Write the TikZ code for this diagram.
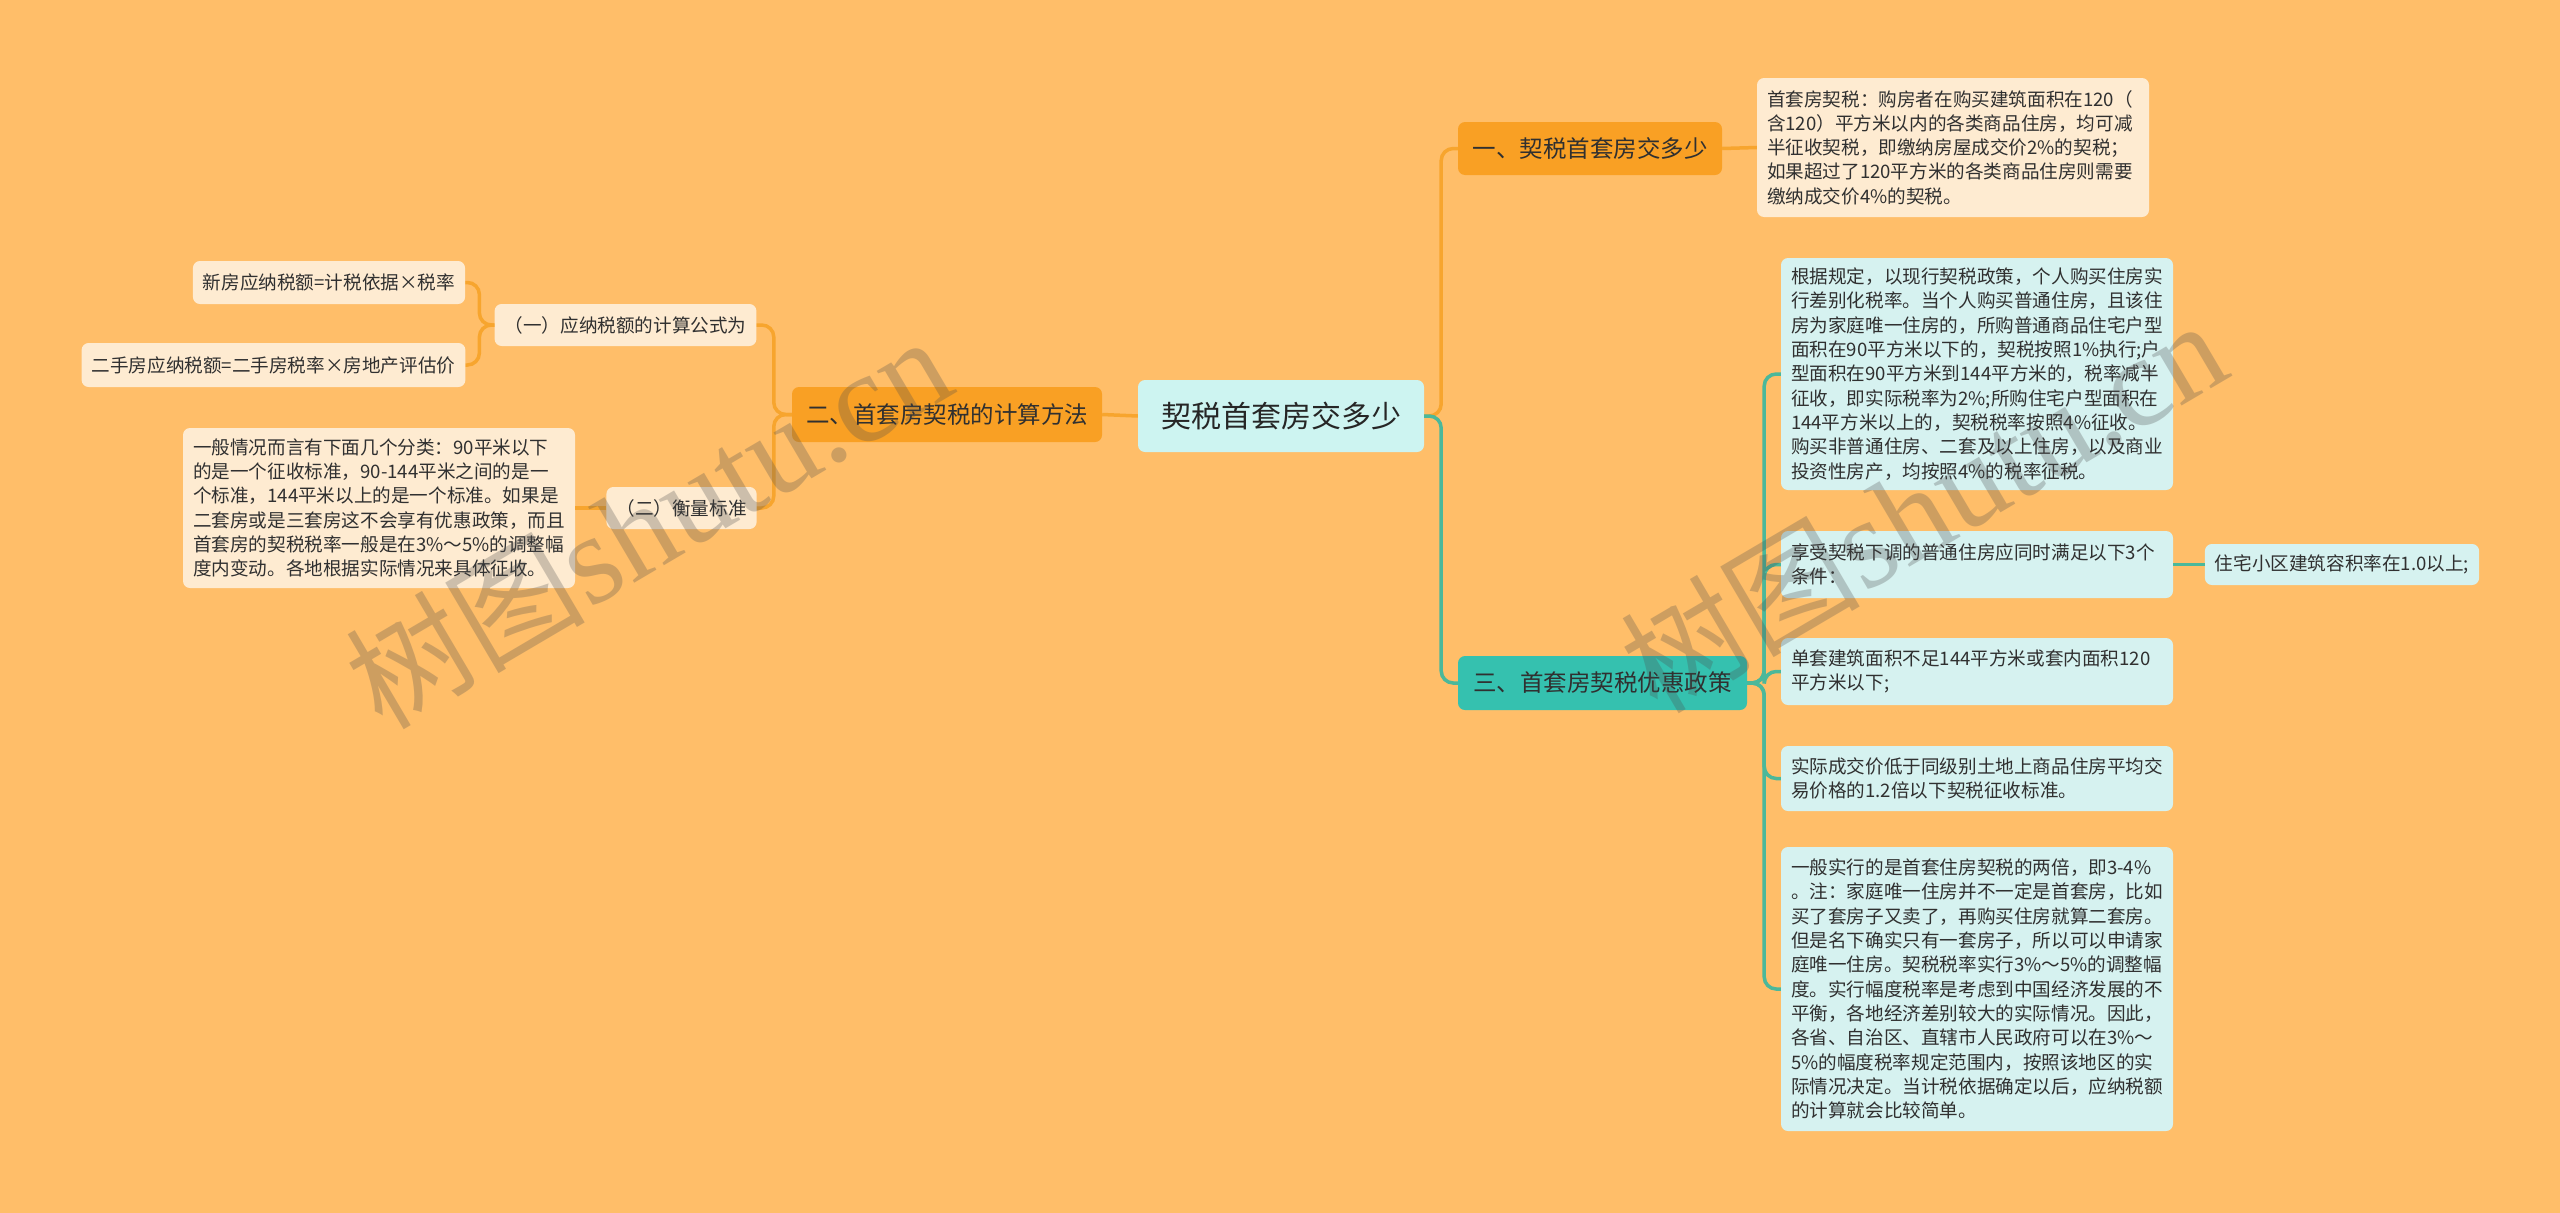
\documentclass[tikz,border=0pt]{standalone}
\usepackage{fontspec}
\newfontfamily\cjk{Noto Sans CJK SC}
\newfontfamily\wmserif{Liberation Serif}
\definecolor{bgc}{HTML}{FFBE69}
\definecolor{orfill}{HTML}{F9A024}
\definecolor{tealfill}{HTML}{35C1AF}
\definecolor{cenfill}{HTML}{CDF4F1}
\definecolor{cyfill}{HTML}{D6F2F0}
\definecolor{crfill}{HTML}{FEEBD1}
\definecolor{orline}{HTML}{F7A52E}
\definecolor{tline}{HTML}{4BB89A}
\definecolor{txt}{HTML}{303030}
\tikzset{
  box/.style={rounded corners=7pt, inner xsep=10pt, inner ysep=0pt, text=txt},
  leaf/.style={box, font={\cjk\fontsize{18.6}{24.3}\selectfont}},
  multileaf/.style={leaf, text width=#1, align=left},
  crleaf/.style={fill=crfill},
  cyleaf/.style={fill=cyfill},
  branch/.style={box, font={\cjk\fontsize{23.5}{28}\selectfont}},
  oline/.style={draw=orline, line width=3.5pt, rounded corners=12pt},
  tconn/.style={draw=tline, line width=3.5pt, rounded corners=12pt},
  wm/.style={rotate=30.5, opacity=0.28, text=black!70}
}
\begin{document}
\begin{tikzpicture}[x=1pt,y=-1pt]
\fill[bgc] (0,0) rectangle (2560,1213);
\useasboundingbox (0,0) rectangle (2560,1213);

\node[box, fill=cenfill, minimum width=286pt, minimum height=72pt, font={\cjk\fontsize{30}{34}\selectfont}, text=black!85] (c) at (1281,416) {契税首套房交多少};

\node[branch, fill=orfill, minimum width=264pt, minimum height=53pt] (b1) at (1590,148.5) {一、契税首套房交多少};
\node[branch, fill=orfill, minimum width=310pt, minimum height=55pt] (b2) at (947,414.5) {二、首套房契税的计算方法};
\node[branch, fill=tealfill, minimum width=289pt, minimum height=54pt] (b3) at (1602.5,683) {三、首套房契税优惠政策};

\node[multileaf=372pt, crleaf, minimum width=392pt, minimum height=139pt] (l1) at (1953,147.5) {首套房契税：购房者在购买建筑面积在120（\\含120）平方米以内的各类商品住房，均可减\\半征收契税，即缴纳房屋成交价2\%的契税；\\如果超过了120平方米的各类商品住房则需要\\缴纳成交价4\%的契税。};

\node[leaf, crleaf, minimum width=261pt, minimum height=42pt] (s1) at (625.5,325) {（一）应纳税额的计算公式为};
\node[leaf, crleaf, minimum width=149pt, minimum height=42pt] (s2) at (681.5,508) {（二）衡量标准};
\node[leaf, crleaf, minimum width=272pt, minimum height=43pt] (f1) at (329,282.5) {新房应纳税额=计税依据×税率};
\node[leaf, crleaf, minimum width=383pt, minimum height=44pt] (f2) at (273.5,365) {二手房应纳税额=二手房税率×房地产评估价};
\node[multileaf=372pt, crleaf, minimum width=392pt, minimum height=160pt] (l2) at (379,508) {一般情况而言有下面几个分类：90平米以下\\的是一个征收标准，90-144平米之间的是一\\个标准，144平米以上的是一个标准。如果是\\二套房或是三套房这不会享有优惠政策，而且\\首套房的契税税率一般是在3\%～5\%的调整幅\\度内变动。各地根据实际情况来具体征收。};

\node[multileaf=372pt, cyleaf, minimum width=392pt, minimum height=232pt] (t1) at (1977,374) {根据规定，以现行契税政策，个人购买住房实\\行差别化税率。当个人购买普通住房，且该住\\房为家庭唯一住房的，所购普通商品住宅户型\\面积在90平方米以下的，契税按照1\%执行;户\\型面积在90平方米到144平方米的，税率减半\\征收，即实际税率为2\%;所购住宅户型面积在\\144平方米以上的，契税税率按照4\%征收。\\购买非普通住房、二套及以上住房，以及商业\\投资性房产，均按照4\%的税率征税。};
\node[multileaf=372pt, cyleaf, minimum width=392pt, minimum height=67pt] (t2) at (1977,564.5) {享受契税下调的普通住房应同时满足以下3个\\条件：};
\node[leaf, cyleaf, minimum width=272pt, minimum height=41pt] (t2a) at (2342,564.5) {住宅小区建筑容积率在1.0以上;};
\node[multileaf=372pt, cyleaf, minimum width=392pt, minimum height=67pt] (t3) at (1977,671.5) {单套建筑面积不足144平方米或套内面积120\\平方米以下;};
\node[multileaf=372pt, cyleaf, minimum width=392pt, minimum height=65pt] (t4) at (1977,778.5) {实际成交价低于同级别土地上商品住房平均交\\易价格的1.2倍以下契税征收标准。};
\node[multileaf=372pt, cyleaf, minimum width=392pt, minimum height=284pt] (t5) at (1977,989) {一般实行的是首套住房契税的两倍，即3-4\%\\。注：家庭唯一住房并不一定是首套房，比如\\买了套房子又卖了，再购买住房就算二套房。\\但是名下确实只有一套房子，所以可以申请家\\庭唯一住房。契税税率实行3\%～5\%的调整幅\\度。实行幅度税率是考虑到中国经济发展的不\\平衡，各地经济差别较大的实际情况。因此，\\各省、自治区、直辖市人民政府可以在3\%～\\5\%的幅度税率规定范围内，按照该地区的实\\际情况决定。当计税依据确定以后，应纳税额\\的计算就会比较简单。};

% connectors
\draw[oline] (c.east) -- ++(17,0) |- (b1.west);
\draw[tconn] (c.east) -- ++(17,0) |- (b3.west);
\draw[oline] (c.west) -- (b2.east);
\draw[oline] (b1.east) -- (l1.west);
\draw[oline] (b2.west) -- ++(-18,0) |- (s1.east);
\draw[oline] (b2.west) -- ++(-18,0) |- (s2.east);
\draw[oline] (s1.west) -- ++(-15,0) |- (f1.east);
\draw[oline] (s1.west) -- ++(-15,0) |- (f2.east);
\draw[oline] (s2.west) -- (l2.east);
\foreach \t in {t1,t2,t3,t4,t5}{
  \draw[tconn] (b3.east) -- ++(17,0) |- (\t.west);
}
\draw[tconn] (t2.east) -- (t2a.west);

% watermarks
\node[wm] (wm1) at (648,522) {{\cjk\fontsize{120}{130}\selectfont 树图}{\wmserif\fontsize{128}{130}\selectfont shutu.cn}};
\node[wm] (wm2) at (1923,506) {{\cjk\fontsize{120}{130}\selectfont 树图}{\wmserif\fontsize{128}{130}\selectfont shutu.cn}};
\end{tikzpicture}
\end{document}
